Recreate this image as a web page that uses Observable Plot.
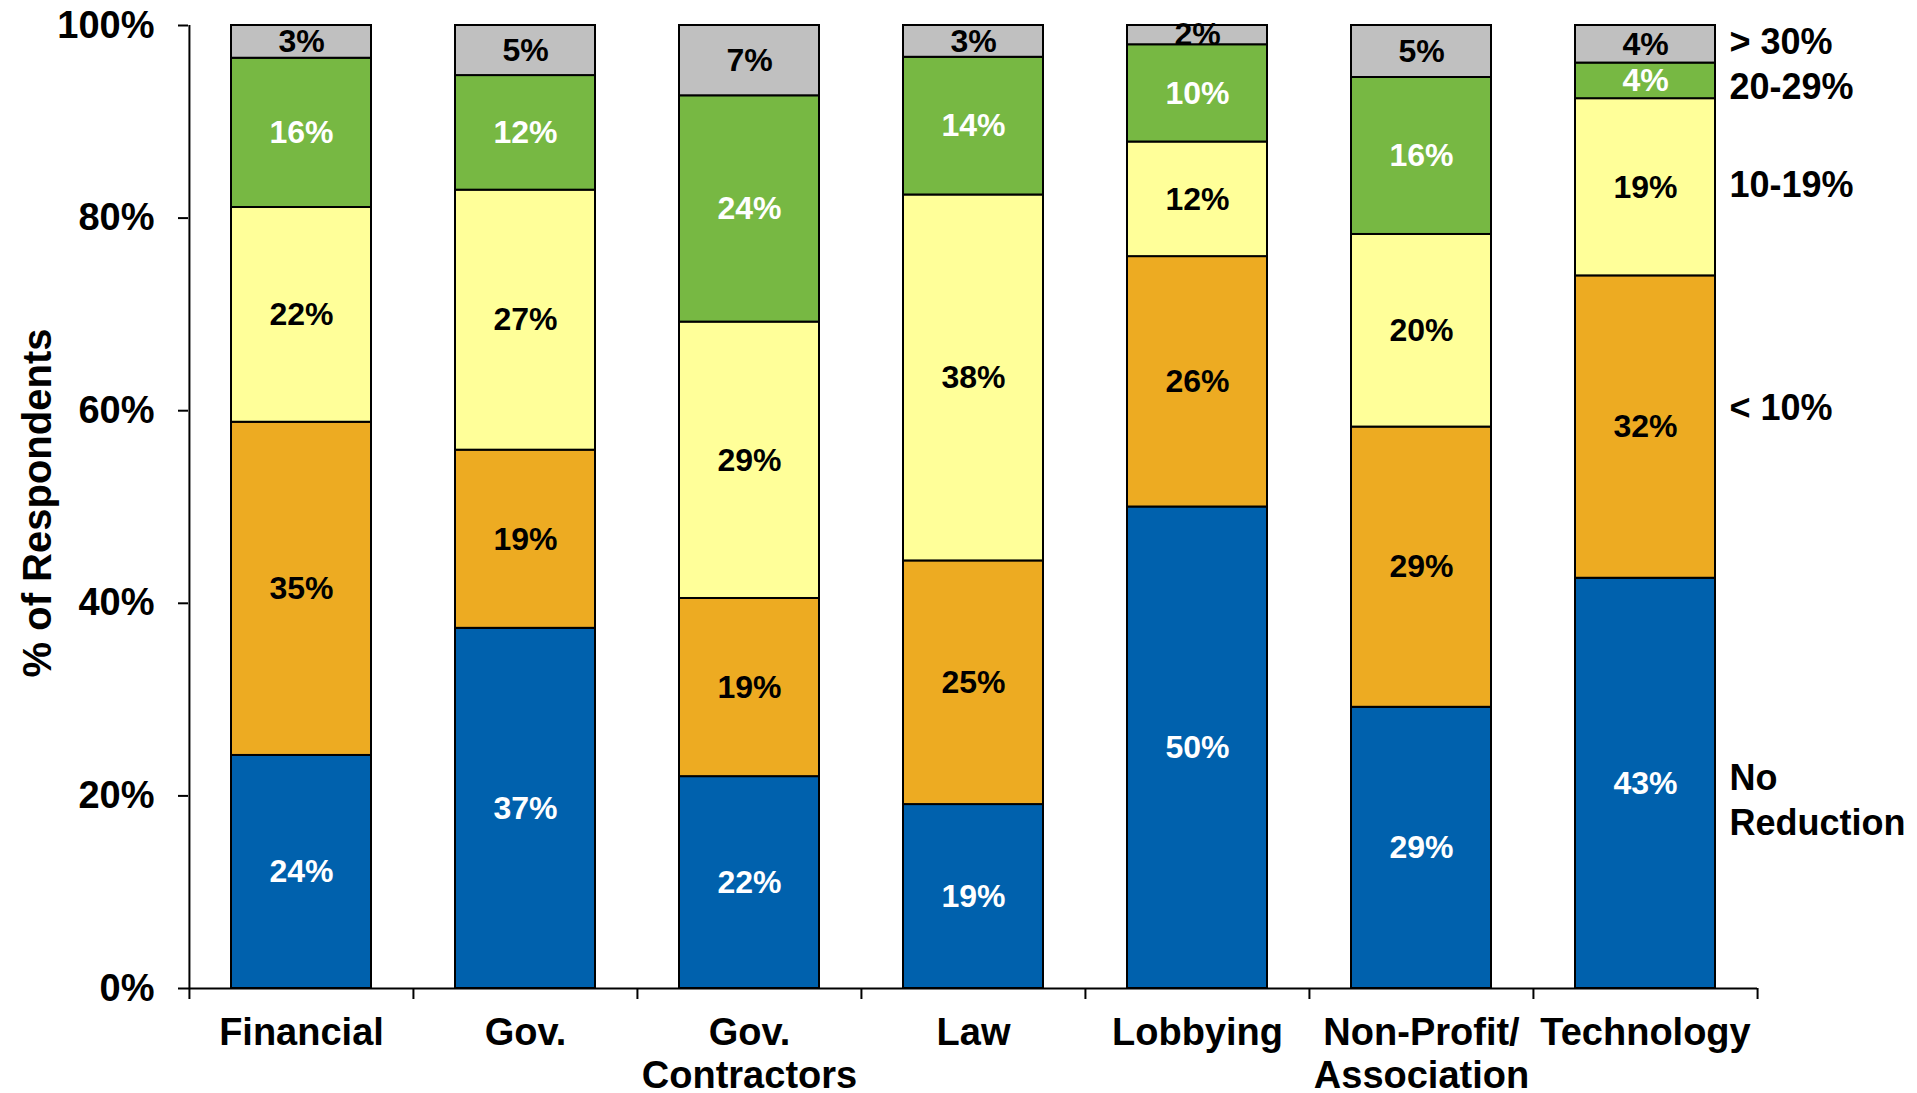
<!DOCTYPE html>
<html><head><meta charset="utf-8">
<script src="https://cdn.jsdelivr.net/npm/d3@7"></script>
<script src="https://cdn.jsdelivr.net/npm/@observablehq/plot@0.6"></script>
<style>
html,body{margin:0;padding:0;background:#fff;}
#chart svg{display:block;font-family:Arial,"Liberation Sans",sans-serif;}
</style></head><body><div id="chart"></div>
<script>
const categories = ["Financial", "Gov.", "Gov.\nContractors", "Law", "Lobbying", "Non-Profit/\nAssociation", "Technology"];
const series = ["No Reduction", "< 10%", "10-19%", "20-29%", "> 30%"];
const legendLabels = ["No\nReduction", "< 10%", "10-19%", "20-29%", "> 30%"];

// measured segment heights (% of respondents)
const noReduction = [24.2, 37.4, 22.0, 19.1, 50.0, 29.2, 42.6];
const under10     = [34.6, 18.5, 18.5, 25.3, 26.0, 29.1, 31.4];
const from10to19  = [22.3, 27.0, 28.7, 38.0, 11.9, 20.0, 18.4];
const from20to29  = [15.5, 11.9, 23.5, 14.3, 10.1, 16.3, 3.7];
const over30      = [3.4, 5.2, 7.3, 3.3, 2.0, 5.4, 3.9];

// printed data labels
const labelNoReduction = [24, 37, 22, 19, 50, 29, 43];
const labelUnder10     = [35, 19, 19, 25, 26, 29, 32];
const label10to19      = [22, 27, 29, 38, 12, 20, 19];
const label20to29      = [16, 12, 24, 14, 10, 16, 4];
const labelOver30      = [3, 5, 7, 3, 2, 5, 4];

const yTicks = [0, 20, 40, 60, 80, 100];

// styles
const seriesColors = ["#0061AD", "#EDAB22", "#FFFF99", "#77B843", "#C0C0C0"];
const whiteTextSeries = ["No Reduction", "20-29%"];
const legendDy = [15, -21, -5, 4, -5];

const valueSets = [noReduction, under10, from10to19, from20to29, over30];
const labelSets = [labelNoReduction, labelUnder10, label10to19, label20to29, labelOver30];

const rows = [];
categories.forEach((c, i) => {
  series.forEach((s, j) => {
    rows.push({category: c, series: s, value: valueSets[j][i], label: labelSets[j][i] + "%"});
  });
});

// legend positions derived from the last bar's stacked segments
const lastCat = categories[categories.length - 1];
const lastRows = rows.filter(d => d.category === lastCat);
let acc = 0;
const legendRows = lastRows.map((d, j) => {
  const mid = acc + d.value / 2;
  acc += d.value;
  return {category: d.category, mid, text: legendLabels[j]};
});

const W = 1917, H = 1093;
const mL = 188, mR = 160, mT = 25, mB = 105;
const step = (W - mL - mR) / categories.length;
const font = "Arial, 'Liberation Sans', sans-serif";

const marks = [
  Plot.barY(rows, {x: "category", y: "value", fill: "series", stroke: "black", strokeWidth: 2}),
  Plot.text(rows, Plot.stackY({x: "category", y: "value", text: "label",
    fill: "white", fontSize: 32, fontWeight: "bold",
    opacity: d => whiteTextSeries.includes(d.series) ? 1 : 0})),
  Plot.text(rows, Plot.stackY({x: "category", y: "value", text: "label",
    fill: "black", fontSize: 32, fontWeight: "bold",
    opacity: d => whiteTextSeries.includes(d.series) ? 0 : 1})),
  Plot.ruleY([0], {stroke: "black", strokeWidth: 2}),
  Plot.ruleX([categories[0]], {y1: 0, y2: 100, dx: -step / 2, stroke: "black", strokeWidth: 2}),
  Plot.axisY({ticks: yTicks, tickSize: 10, tickPadding: 24, tickFormat: d => d + "%",
    fontSize: 38, fontWeight: "bold", label: null, stroke: "black", strokeWidth: 2, fill: "black"}),
  Plot.axisX(categories, {tickSize: 11, fill: "none", dx: -step / 2, stroke: "black", strokeWidth: 2}),
  Plot.axisX([lastCat], {tickSize: 11, fill: "none", dx: step / 2, stroke: "black", strokeWidth: 2}),
  Plot.text(categories, {x: d => d, y: 0, text: d => d, lineAnchor: "top", dy: 26,
    lineHeight: 1.13, fontSize: 38, fontWeight: "bold", fill: "black"}),
  Plot.text(["% of Respondents"], {frameAnchor: "left", textAnchor: "middle", lineAnchor: "middle",
    rotate: -90, dx: -150, dy: -4, fontSize: 40, fontWeight: "bold", fill: "black"}),
  ...legendRows.map((r, j) => Plot.text([r], {x: "category", y: "mid", text: "text",
    textAnchor: "start", dx: 84, dy: legendDy[j], lineHeight: 1.25,
    fontSize: 36, fontWeight: "bold", fill: "black"}))
];

const chart = Plot.plot({
  width: W, height: H,
  marginLeft: mL, marginRight: mR, marginTop: mT, marginBottom: mB,
  style: {fontFamily: font, color: "black", background: "white", overflow: "visible"},
  x: {domain: categories, paddingInner: 0.375, paddingOuter: 0.1875, align: 0.5, axis: null},
  y: {domain: [0, 100], axis: null},
  color: {domain: series, range: seriesColors},
  marks
});
document.getElementById("chart").appendChild(chart);
</script>
</body></html>
